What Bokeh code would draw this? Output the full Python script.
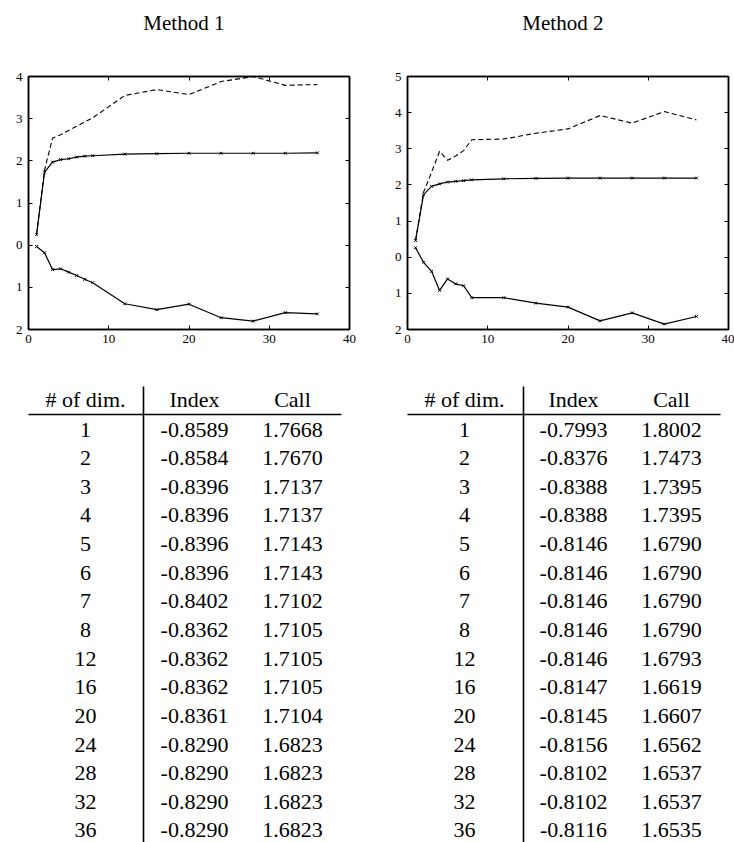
from bokeh.plotting import figure
from bokeh.models import LinearAxis, FixedTicker, Range1d, ColumnDataSource
from bokeh.layouts import column, row
from bokeh.embed import file_html
from bokeh.resources import INLINE
from bokeh.core.properties import value

# ---------------- data ----------------
titles = ["Method  1", "Method  2"]
dims = [1, 2, 3, 4, 5, 6, 7, 8, 12, 16, 20, 24, 28, 32, 36]

m1_upper = [0.25, 1.78, 2.54, 2.62, 2.72, 2.82, 2.92, 3.02, 3.55, 3.69, 3.57, 3.88, 4.00, 3.79, 3.81]
m1_mid = [0.25, 1.73, 1.97, 2.03, 2.05, 2.09, 2.11, 2.12, 2.16, 2.17, 2.18, 2.18, 2.18, 2.18, 2.19]
m1_low = [-0.03, -0.18, -0.58, -0.56, -0.64, -0.72, -0.81, -0.89, -1.39, -1.53, -1.40, -1.72, -1.80, -1.60, -1.63]

m2_upper = [0.46, 1.80, 2.35, 2.93, 2.68, 2.80, 2.95, 3.25, 3.27, 3.43, 3.55, 3.92, 3.71, 4.03, 3.80]
m2_mid = [0.46, 1.73, 1.96, 2.03, 2.08, 2.10, 2.12, 2.14, 2.17, 2.18, 2.19, 2.19, 2.19, 2.19, 2.19]
m2_low = [0.26, -0.14, -0.39, -0.92, -0.60, -0.74, -0.79, -1.12, -1.12, -1.27, -1.38, -1.76, -1.54, -1.85, -1.64]

x_ticks = [0, 10, 20, 30, 40]
y_ticks_1 = [-2, -1, 0, 1, 2, 3, 4]
y_ticks_2 = [-2, -1, 0, 1, 2, 3, 4, 5]
y_tick_labels = {-1: "1", -2: "2"}

t_headers = ["# of dim.", "Index", "Call"]
t1_index = [-0.8589, -0.8584, -0.8396, -0.8396, -0.8396, -0.8396, -0.8402, -0.8362,
            -0.8362, -0.8362, -0.8361, -0.8290, -0.8290, -0.8290, -0.8290]
t1_call = [1.7668, 1.7670, 1.7137, 1.7137, 1.7143, 1.7143, 1.7102, 1.7105,
           1.7105, 1.7105, 1.7104, 1.6823, 1.6823, 1.6823, 1.6823]
t2_index = [-0.7993, -0.8376, -0.8388, -0.8388, -0.8146, -0.8146, -0.8146, -0.8146,
            -0.8146, -0.8147, -0.8145, -0.8156, -0.8102, -0.8102, -0.8116]
t2_call = [1.8002, 1.7473, 1.7395, 1.7395, 1.6790, 1.6790, 1.6790, 1.6790,
           1.6793, 1.6619, 1.6607, 1.6562, 1.6537, 1.6537, 1.6535]

SERIF = "Liberation Serif"
PAGE_W = 734


def style_axis(ax, ticks, show_labels=True, overrides=None):
    ax.ticker = FixedTicker(ticks=ticks)
    ax.minor_tick_line_color = None
    ax.major_tick_in = 4
    ax.major_tick_out = 0
    ax.major_tick_line_color = "black"
    ax.major_tick_line_width = 1
    ax.axis_line_color = "black"
    ax.axis_line_width = 1.5
    ax.major_label_text_font = SERIF
    ax.major_label_text_font_size = "13px"
    ax.major_label_text_color = "black"
    if show_labels:
        if overrides:
            ax.major_label_overrides = overrides
    else:
        ax.major_label_overrides = {t: "" for t in ticks}
        ax.major_label_standoff = 0


def make_plot(upper, mid, low, yticks, width, bl, br):
    p = figure(width=width, height=300, x_range=Range1d(0, 40),
               y_range=Range1d(yticks[0], yticks[-1]),
               output_backend="svg", toolbar_location=None,
               min_border_left=bl, min_border_right=br,
               min_border_top=16, min_border_bottom=31)
    p.grid.visible = False
    p.outline_line_color = "black"
    p.outline_line_width = 1.5
    p.background_fill_color = "white"
    p.border_fill_color = "white"

    style_axis(p.xaxis[0], x_ticks)
    p.xaxis[0].major_label_standoff = 5
    style_axis(p.yaxis[0], yticks, overrides=y_tick_labels)
    p.yaxis[0].major_label_standoff = 6

    top = LinearAxis()
    style_axis(top, x_ticks, show_labels=False)
    p.add_layout(top, "above")
    right = LinearAxis()
    style_axis(right, yticks, show_labels=False)
    p.add_layout(right, "right")

    src = ColumnDataSource(dict(x=dims, up=upper, mid=mid, low=low))
    p.line("x", "up", source=src, line_color="black", line_width=1.1, line_dash="5 3")
    p.line("x", "mid", source=src, line_color="black", line_width=1.2)
    p.scatter("x", "mid", source=src, marker="x", size=4, line_color="black", line_width=1)
    p.line("x", "low", source=src, line_color="black", line_width=1.2)
    p.scatter("x", "low", source=src, marker="x", size=4, line_color="black", line_width=1)
    return p


# ---------------- titles strip ----------------
head = figure(width=PAGE_W, height=60, x_range=Range1d(0, PAGE_W), y_range=Range1d(60, 0),
              output_backend="svg", toolbar_location=None, min_border=0)
head.axis.visible = False
head.grid.visible = False
head.outline_line_color = None
head.text(x=[186, 565], y=[22, 22], text=titles, text_font=value(SERIF),
          text_font_size="21px", text_align="center", text_baseline="middle",
          text_color="black")

p1 = make_plot(m1_upper, m1_mid, m1_low, y_ticks_1, 370, 28, 21)
p2 = make_plot(m2_upper, m2_mid, m2_low, y_ticks_2, 364, 37, 6)

# ---------------- tables ----------------
tbl = figure(width=PAGE_W, height=482, x_range=Range1d(0, PAGE_W), y_range=Range1d(842, 360),
             output_backend="svg", toolbar_location=None, min_border=0)
tbl.axis.visible = False
tbl.grid.visible = False
tbl.outline_line_color = None

HEADER_Y = 399
ROW_Y0 = 429
ROW_STEP = 28.64
LINE_Y = 414
VLINE_TOP = 386
VLINE_BOTTOM = 842


def draw_table(col_x, line_x0, line_x1, vline_x, idx_vals, call_vals):
    tbl.text(x=col_x, y=[HEADER_Y] * 3, text=t_headers,
             text_font=value(SERIF), text_font_size="22px",
             text_align="center", text_baseline="middle", text_color="black")
    ys = [ROW_Y0 + i * ROW_STEP for i in range(len(dims))]
    columns = [[str(d) for d in dims],
               [f"{v:.4f}" for v in idx_vals],
               [f"{v:.4f}" for v in call_vals]]
    for cx, texts in zip(col_x, columns):
        tbl.text(x=[cx] * len(texts), y=ys, text=texts,
                 text_font=value(SERIF), text_font_size="22px",
                 text_align="center", text_baseline="middle", text_color="black")
    tbl.segment(x0=[line_x0, vline_x], y0=[LINE_Y, VLINE_TOP],
                x1=[line_x1, vline_x], y1=[LINE_Y, VLINE_BOTTOM],
                line_color="black", line_width=1.6)


draw_table([85, 194, 292], 28, 341, 143, t1_index, t1_call)
draw_table([464, 573, 671], 407, 720, 523, t2_index, t2_call)

layout = column(head, row(p1, p2), tbl)
open("out.html", "w").write(file_html(layout, INLINE))
